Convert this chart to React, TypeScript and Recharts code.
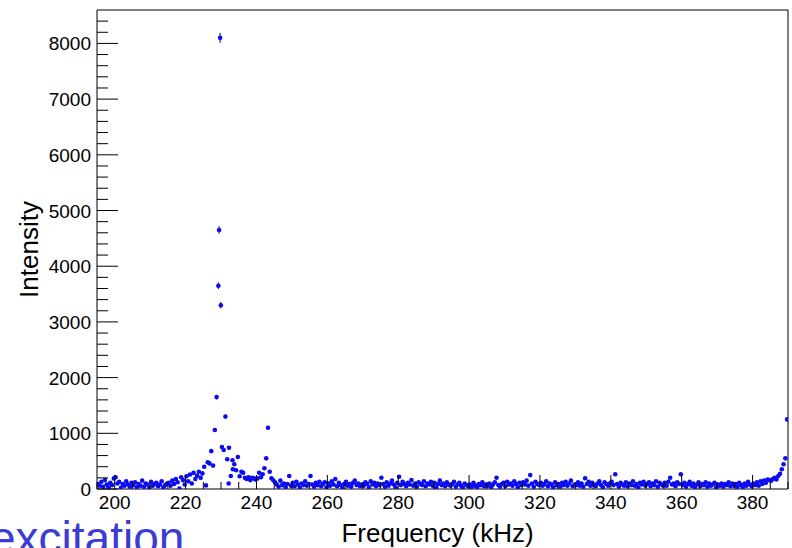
import React from 'react';
import { ScatterChart, Scatter, XAxis, YAxis, ErrorBar, ReferenceLine, Label } from 'recharts';

const FONT = '"Liberation Sans", Arial, Helvetica, sans-serif';

// histogram bins, 0.5 kHz wide, first centre at 195.25 kHz
const binStart = 195.25;
const binWidth = 0.5;

// 195 - 225 kHz
const lowBand = [
  90, 60, 130, 40, 160, 80, 30, 110, 70, 190,
  210, 100, 130, 20, 90, 60, 140, 80, 40, 110,
  70, 120, 30, 90, 60, 150, 40, 100, 80, 20,
  130, 60, 90, 110, 50, 80, 140, 30, 70, 100,
  110, 60, 150, 90, 180, 120, 10, 210, 160, 80,
  230, 140, 260, 100, 290, 180, 240, 310, 200, 280,
];

// 225 - 245 kHz, the resonance
const peakBand = [
  400, 65, 480, 460, 680, 420, 1060, 1650, 3650, 8100,
  755, 700, 1300, 535, 740, 234, 515, 444, 336, 575,
  230, 311, 293, 200, 180, 210, 160, 200, 190, 170,
  190, 293, 210, 264, 372, 550, 1100, 311, 192, 156,
];

// 245 - 390 kHz
const highBand = [
  120, 80, 40, 150, 70, 100, 30, 90, 234, 60,
  110, 50, 130, 80, 20, 100, 70, 140, 60, 90,
  234, 80, 40, 110, 70, 130, 50, 90, 120, 30,
  100, 60, 140, 80, 180, 50, 110, 70, 20, 90,
  130, 60, 90, 40, 110, 150, 70, 100, 50, 80,
  60, 120, 90, 30, 140, 80, 110, 50, 100, 70,
  203, 90, 40, 120, 60, 100, 150, 80, 30, 110,
  220, 70, 130, 90, 50, 110, 80, 160, 60, 100,
  40, 120, 90, 70, 140, 50, 100, 80, 130, 60,
  110, 30, 90, 150, 70, 100, 50, 120, 80, 60,
  90, 130, 40, 80, 110, 60, 20, 100, 70, 50,
  80, 40, 110, 60, 30, 90, 70, 120, 50, 80,
  60, 100, 30, 80, 120, 203, 70, 40, 90, 110,
  50, 130, 80, 100, 60, 140, 90, 30, 110, 70,
  120, 80, 150, 60, 250, 100, 40, 130, 90, 70,
  110, 60, 90, 140, 50, 100, 80, 30, 120, 70,
  90, 40, 110, 70, 130, 60, 100, 150, 50, 80,
  70, 120, 60, 100, 40, 192, 90, 130, 60, 110,
  80, 50, 100, 140, 70, 30, 120, 90, 60, 100,
  130, 70, 264, 90, 40, 110, 80, 60, 120, 50,
  100, 70, 140, 60, 90, 30, 110, 80, 130, 60,
  90, 120, 50, 100, 70, 140, 40, 110, 80, 60,
  110, 60, 130, 203, 80, 100, 50, 120, 90, 264,
  70, 110, 40, 90, 130, 60, 100, 30, 80, 120,
  50, 90, 70, 120, 40, 100, 60, 80, 110, 30,
  80, 60, 100, 40, 90, 70, 120, 50, 100, 60,
  90, 40, 110, 70, 30, 100, 60, 130, 80, 50,
  100, 70, 120, 60, 140, 90, 150, 110, 170, 160,
  150, 180, 203, 170, 234, 275, 354, 444, 550, 1250,
];

// statistical errors on the tall bins
const errFreq = [228.25, 228.75, 229.25, 229.75, 231.25, 243.25, 389.75];
const errVal = [33, 41, 60, 90, 36, 33, 35];

// points that sit between the regular bins
const extraFreq = [229.45, 229.95, 232.15, 233.35];
const extraVal = [4650, 3300, 100, 354];
const extraErr = [68, 57, 0, 0];

const xTicks = [
  195, 200, 205, 210, 215, 220, 225, 230, 235, 240, 245, 250, 255, 260, 265, 270, 275, 280, 285, 290,
  295, 300, 305, 310, 315, 320, 325, 330, 335, 340, 345, 350, 355, 360, 365, 370, 375, 380, 385, 390,
];
const xLabels = [200, 220, 240, 260, 280, 300, 320, 340, 360, 380];
const yTicks = [
  0, 200, 400, 600, 800, 1000, 1200, 1400, 1600, 1800, 2000, 2200, 2400, 2600, 2800, 3000, 3200, 3400,
  3600, 3800, 4000, 4200, 4400, 4600, 4800, 5000, 5200, 5400, 5600, 5800, 6000, 6200, 6400, 6600, 6800,
  7000, 7200, 7400, 7600, 7800, 8000, 8200, 8400,
];
const yLabels = [0, 1000, 2000, 3000, 4000, 5000, 6000, 7000, 8000];

const bins = [...lowBand, ...peakBand, ...highBand];
const rows = [
  ...bins.map((v, i) => {
    const f = binStart + i * binWidth;
    const k = errFreq.indexOf(f);
    return { f, v, e: k >= 0 ? errVal[k] : 0 };
  }),
  ...extraFreq.map((f, i) => ({ f, v: extraVal[i], e: extraErr[i] })),
];

const XTick = (props: any) => {
  const { x, y, payload } = props;
  const major = xLabels.includes(payload.value);
  return (
    <g>
      <line x1={x} x2={x} y1={y} y2={y - (major ? 14 : 7)} stroke="#000" />
      {major && (
        <text x={x} y={y + 20} textAnchor="middle" fontSize={19} fontFamily={FONT} fill="#000">
          {payload.value}
        </text>
      )}
    </g>
  );
};

const YTick = (props: any) => {
  const { x, y, payload } = props;
  const major = yLabels.includes(payload.value);
  return (
    <g>
      <line x1={x} x2={x + (major ? 21 : 11)} y1={y} y2={y} stroke="#000" />
      {major && (
        <text x={x - 6} y={y + 7} textAnchor="end" fontSize={19} fontFamily={FONT} fill="#000">
          {payload.value}
        </text>
      )}
    </g>
  );
};

const Dot = (props: any) => <circle cx={props.cx} cy={props.cy} r={2.3} fill="#0c0cf0" />;

export default function App() {
  return (
    <div style={{ position: 'absolute', left: 0, top: 0, width: 792, height: 548, background: '#fff', overflow: 'hidden' }}>
      <ScatterChart width={792} height={548} margin={{ top: 10, right: 4, bottom: 0, left: 0 }}>
        <XAxis
          type="number"
          dataKey="f"
          domain={[195, 390]}
          ticks={xTicks}
          interval={0}
          allowDataOverflow
          height={59}
          tickSize={0}
          tickMargin={0}
          tickLine={false}
          tick={<XTick />}
          axisLine={{ stroke: '#000' }}
        >
          <Label
            content={(p: any) => (
              <text
                x={p.viewBox.x + p.viewBox.width / 2 - 5}
                y={p.viewBox.y + 53}
                textAnchor="middle"
                fontSize={26}
                fontFamily={FONT}
                fill="#000"
              >
                Frequency (kHz)
              </text>
            )}
          />
        </XAxis>
        <YAxis
          type="number"
          dataKey="v"
          domain={[0, 8600]}
          ticks={yTicks}
          interval={0}
          allowDataOverflow
          width={97}
          tickSize={0}
          tickMargin={0}
          tickLine={false}
          tick={<YTick />}
          axisLine={{ stroke: '#000' }}
        >
          <Label
            content={(p: any) => {
              const cx = p.viewBox.x + 38;
              const cy = p.viewBox.y + p.viewBox.height / 2;
              return (
                <text
                  x={cx}
                  y={cy}
                  transform={`rotate(-90, ${cx}, ${cy})`}
                  textAnchor="middle"
                  fontSize={26}
                  fontFamily={FONT}
                  fill="#000"
                >
                  Intensity
                </text>
              );
            }}
          />
        </YAxis>
        <ReferenceLine y={8600} stroke="#000" />
        <ReferenceLine x={390} stroke="#000" />
        <Scatter data={rows} shape={<Dot />} isAnimationActive={false}>
          <ErrorBar dataKey="e" direction="y" width={0} stroke="#000070" strokeWidth={1} />
        </Scatter>
      </ScatterChart>
      <svg width={792} height={548} style={{ position: 'absolute', left: 0, top: 0, pointerEvents: 'none' }}>
        <text x={-10} y={554} fontSize={46} fontFamily={FONT} fill="#3c3cd2">
          excitation
        </text>
      </svg>
    </div>
  );
}
